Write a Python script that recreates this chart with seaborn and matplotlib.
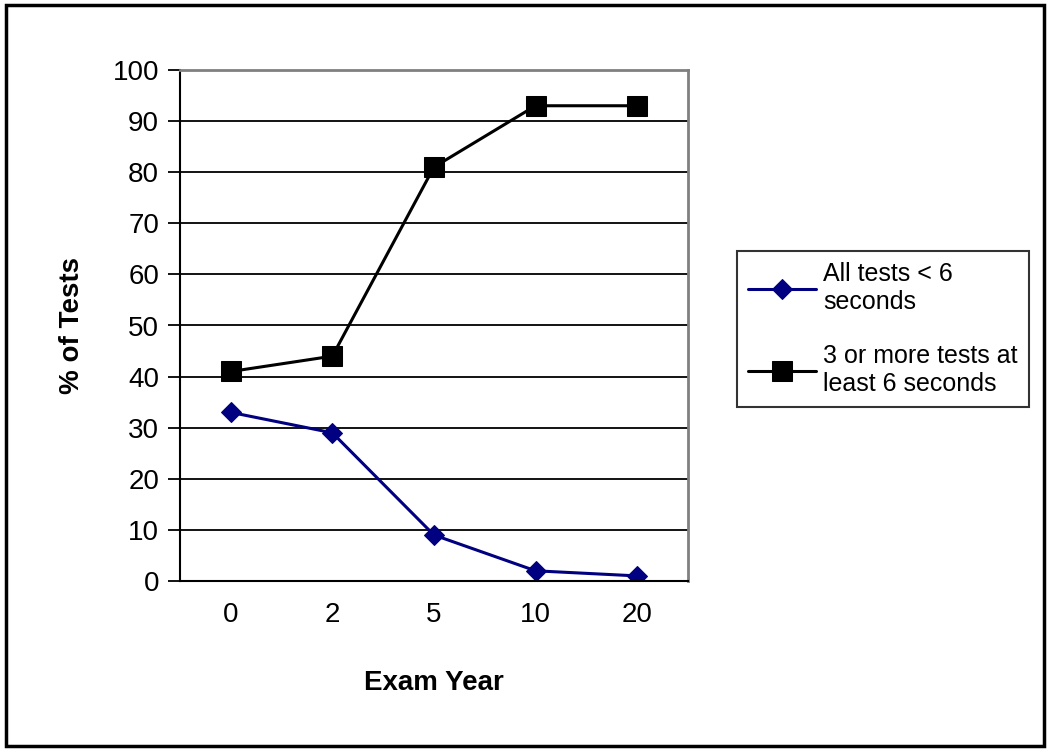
import seaborn as sns
import matplotlib.pyplot as plt
import pandas as pd
from matplotlib.patches import Rectangle
from matplotlib.ticker import FixedLocator

# values
exam_years = ['0', '2', '5', '10', '20']
under_6 = [33, 29, 9, 2, 1]
three_or_more = [41, 44, 81, 93, 93]
series_names = ['All tests < 6\nseconds', '3 or more tests at\nleast 6 seconds']

df = pd.DataFrame({
    'year': exam_years * 2,
    'pct': under_6 + three_or_more,
    'series': [series_names[0]] * 5 + [series_names[1]] * 5,
})

sns.set_style('white')
plt.rcParams['font.family'] = ['Liberation Sans', 'DejaVu Sans']
plt.rcParams['text.color'] = 'black'
plt.rcParams['axes.labelcolor'] = 'black'
plt.rcParams['xtick.color'] = 'black'
plt.rcParams['ytick.color'] = 'black'

fig = plt.figure(figsize=(10.5, 7.5), dpi=100)
ax = fig.add_axes([0.1714, 0.2253, 0.4838, 0.6814])

sns.lineplot(data=df, x='year', y='pct', hue='series', style='series',
             palette={series_names[0]: '#000080', series_names[1]: 'black'},
             markers={series_names[0]: 'D', series_names[1]: 's'},
             dashes=False, markersize=11, linewidth=2.2, ax=ax)
# diamonds a bit smaller than squares, like the original
for line in ax.lines:
    if line.get_marker() == 'D':
        line.set_markersize(10.5)
        line.set_markeredgecolor('#000080')
    elif line.get_marker() == 's':
        line.set_markersize(14)
        line.set_markeredgecolor('black')

ax.set_xlim(-0.5, 4.5)
ax.set_ylim(0, 100)
ax.set_yticks(range(0, 101, 10))
ax.yaxis.grid(True, color='black', linewidth=1.3)
ax.xaxis.grid(False)

ax.xaxis.set_minor_locator(FixedLocator([i - 0.5 for i in range(6)]))
ax.tick_params(axis='x', which='major', length=0, pad=15, labelsize=20)
ax.tick_params(axis='x', which='minor', length=9, width=1.3, color='black', direction='out')
ax.tick_params(axis='y', which='major', length=9, width=1.3, color='black', direction='out',
               left=True, labelsize=20, pad=6)

for side in ['top', 'right']:
    ax.spines[side].set_color('#808080')
    ax.spines[side].set_linewidth(2)
for side in ['left', 'bottom']:
    ax.spines[side].set_color('black')
    ax.spines[side].set_linewidth(1.5)

ax.set_xlabel('Exam Year', fontsize=20, fontweight='bold', labelpad=30)
ax.set_ylabel('% of Tests', fontsize=20, fontweight='bold', labelpad=20)

leg = ax.legend(loc='center left', bbox_to_anchor=(0.702, 0.5613), bbox_transform=fig.transFigure,
                fontsize=18, frameon=True, fancybox=False, edgecolor='black',
                handlelength=2.7, handletextpad=0.3, labelspacing=1.2,
                borderpad=0.45, borderaxespad=0)
leg.get_frame().set_linewidth(1.5)
leg.get_frame().set_edgecolor('black')
leg.set_title(None)

fig.patches.append(Rectangle((0.006, 0.006), 0.988, 0.988, transform=fig.transFigure,
                             fill=False, edgecolor='black', linewidth=2.5))

fig.savefig('out.png', dpi=100)
